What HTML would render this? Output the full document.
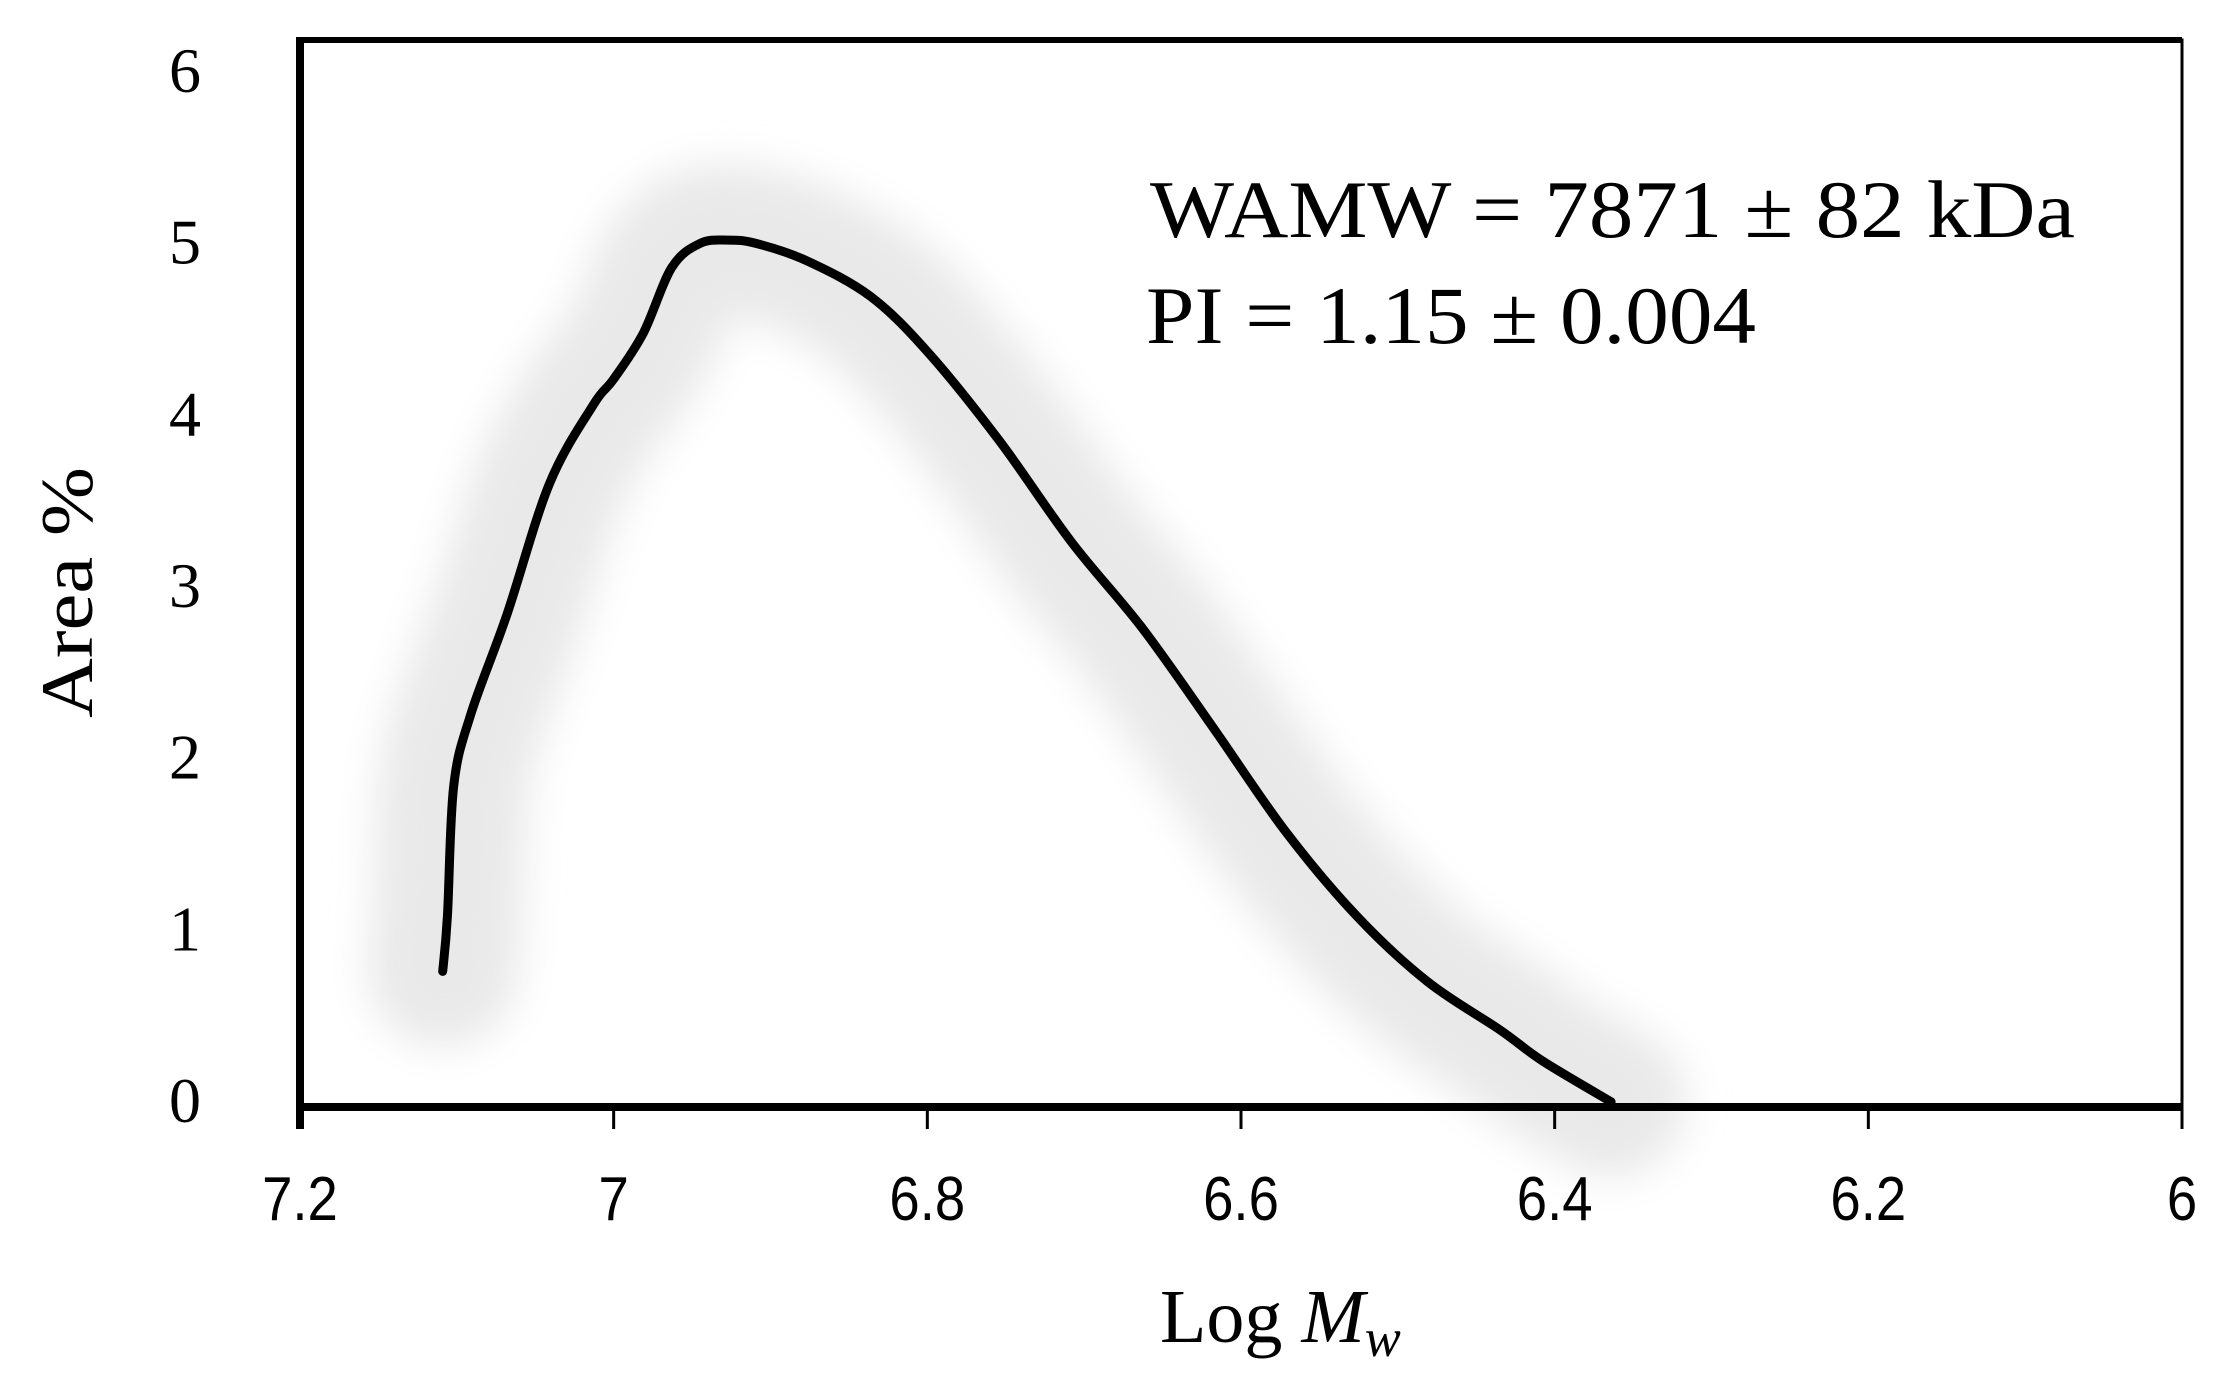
<!DOCTYPE html>
<html><head><meta charset="utf-8"><style>
html,body{margin:0;padding:0;background:#fff;}
svg{display:block;}
</style></head><body>
<svg id="chart" width="2237" height="1397" viewBox="0 0 2237 1397" xmlns="http://www.w3.org/2000/svg">
<defs><filter id="blur" x="-30%" y="-30%" width="160%" height="160%"><feGaussianBlur stdDeviation="20"/></filter></defs>
<rect x="0" y="0" width="2237" height="1397" fill="#fff"/>
<g id="shadow"></g>
<g id="marks"></g>
<g id="axes"></g>
<text x="1150" y="237" font-family="Liberation Serif, serif" font-size="82" textLength="925" lengthAdjust="spacingAndGlyphs">WAMW = 7871 ± 82 kDa</text>
<text x="1146" y="343" font-family="Liberation Serif, serif" font-size="82" textLength="610" lengthAdjust="spacingAndGlyphs">PI = 1.15 ± 0.004</text>
<text x="1160" y="1342" font-family="Liberation Serif, serif" font-size="76">Log <tspan font-style="italic">M</tspan><tspan font-style="italic" font-size="54" dy="14">w</tspan></text>
<text transform="translate(92,718) rotate(-90)" font-family="Liberation Serif, serif" font-size="74" textLength="251" lengthAdjust="spacingAndGlyphs">Area %</text>
</svg>
<script>
const xTicks = [7.2, 7, 6.8, 6.6, 6.4, 6.2, 6];
const xTickLabels = ["7.2", "7", "6.8", "6.6", "6.4", "6.2", "6"];
const yTicks = [0, 1, 2, 3, 4, 5, 6];
const yTickLabels = ["0", "1", "2", "3", "4", "5", "6"];
const logMw = [7.109,7.106,7.102,7.091,7.068,7.041,7.013,7.0,6.981,6.963,6.945,6.927,6.909,6.877,6.836,6.799,6.754,6.708,6.663,6.617,6.572,6.526,6.481,6.435,6.408,6.364];
const areaPct = [0.79,1.11,1.87,2.29,2.87,3.63,4.09,4.24,4.51,4.89,5.03,5.05,5.03,4.93,4.72,4.39,3.88,3.29,2.79,2.20,1.61,1.11,0.73,0.45,0.27,0.03];

const X0=300, X1=2182, Y0=1107, Y6=77;
function sx(v){ return X0 + (7.2 - v) / 1.2 * (X1 - X0); }
function sy(v){ return Y0 - v / 6 * (Y0 - Y6); }
const NS="http://www.w3.org/2000/svg";
function mk(tag, attrs, parent){ const e=document.createElementNS(NS,tag); for(const k in attrs) e.setAttribute(k,attrs[k]); parent.appendChild(e); return e; }

const pts = logMw.map((v,i)=>[sx(v), sy(areaPct[i])]);
let pathD = "M" + pts[0][0].toFixed(1) + "," + pts[0][1].toFixed(1);
for (let i=0;i<pts.length-1;i++){
  const p0=pts[Math.max(0,i-1)], p1=pts[i], p2=pts[i+1], p3=pts[Math.min(pts.length-1,i+2)];
  const c1=[p1[0]+(p2[0]-p0[0])/6, p1[1]+(p2[1]-p0[1])/6];
  const c2=[p2[0]-(p3[0]-p1[0])/6, p2[1]-(p3[1]-p1[1])/6];
  pathD += "C"+c1[0].toFixed(1)+","+c1[1].toFixed(1)+" "+c2[0].toFixed(1)+","+c2[1].toFixed(1)+" "+p2[0].toFixed(1)+","+p2[1].toFixed(1);
}
const shadowGroup=document.getElementById('shadow');
const shadowPath=mk('path',{d:pathD,fill:"none",stroke:"#e9e9e9","stroke-width":150,"stroke-linejoin":"round","stroke-linecap":"round",filter:"url(#blur)"},shadowGroup);


const marksGroup=document.getElementById('marks');
const curveLine=mk('path',{d:pathD,fill:"none",stroke:"#000","stroke-width":9,"stroke-linejoin":"round","stroke-linecap":"round"},marksGroup);



const axesGroup=document.getElementById('axes');
const frameRight=mk('path',{d:`M${X0},40 L${X1},40 L${X1},${Y0}`,fill:"none",stroke:"#000","stroke-width":3},axesGroup);


const topBorder=mk('line',{x1:X0,y1:40,x2:X1,y2:40,stroke:"#000","stroke-width":6},axesGroup);


const yAxisLine=mk('line',{x1:X0,y1:37,x2:X0,y2:1129,stroke:"#000","stroke-width":8},axesGroup);


const xAxisLine=mk('line',{x1:X0,y1:Y0,x2:X1,y2:Y0,stroke:"#000","stroke-width":8},axesGroup);



xTicks.forEach((v,i)=>{
  const tk=mk('line',{x1:sx(v),y1:Y0,x2:sx(v),y2:1129,stroke:"#000","stroke-width":3},axesGroup);
  
  
  const lb=mk('text',{x:sx(v),y:1220,"text-anchor":"middle","font-family":"Liberation Sans, sans-serif","font-size":62,transform:`translate(${sx(v)*0.12},0) scale(0.88,1)`},axesGroup);
  lb.textContent=xTickLabels[i];
  
  
});
yTicks.forEach((v,i)=>{
  const lb=mk('text',{x:185,y:sy(v)+15,"text-anchor":"middle","font-family":"Liberation Serif, serif","font-size":64},axesGroup);
  lb.textContent=yTickLabels[i];
  
  
});
</script>
</body></html>
